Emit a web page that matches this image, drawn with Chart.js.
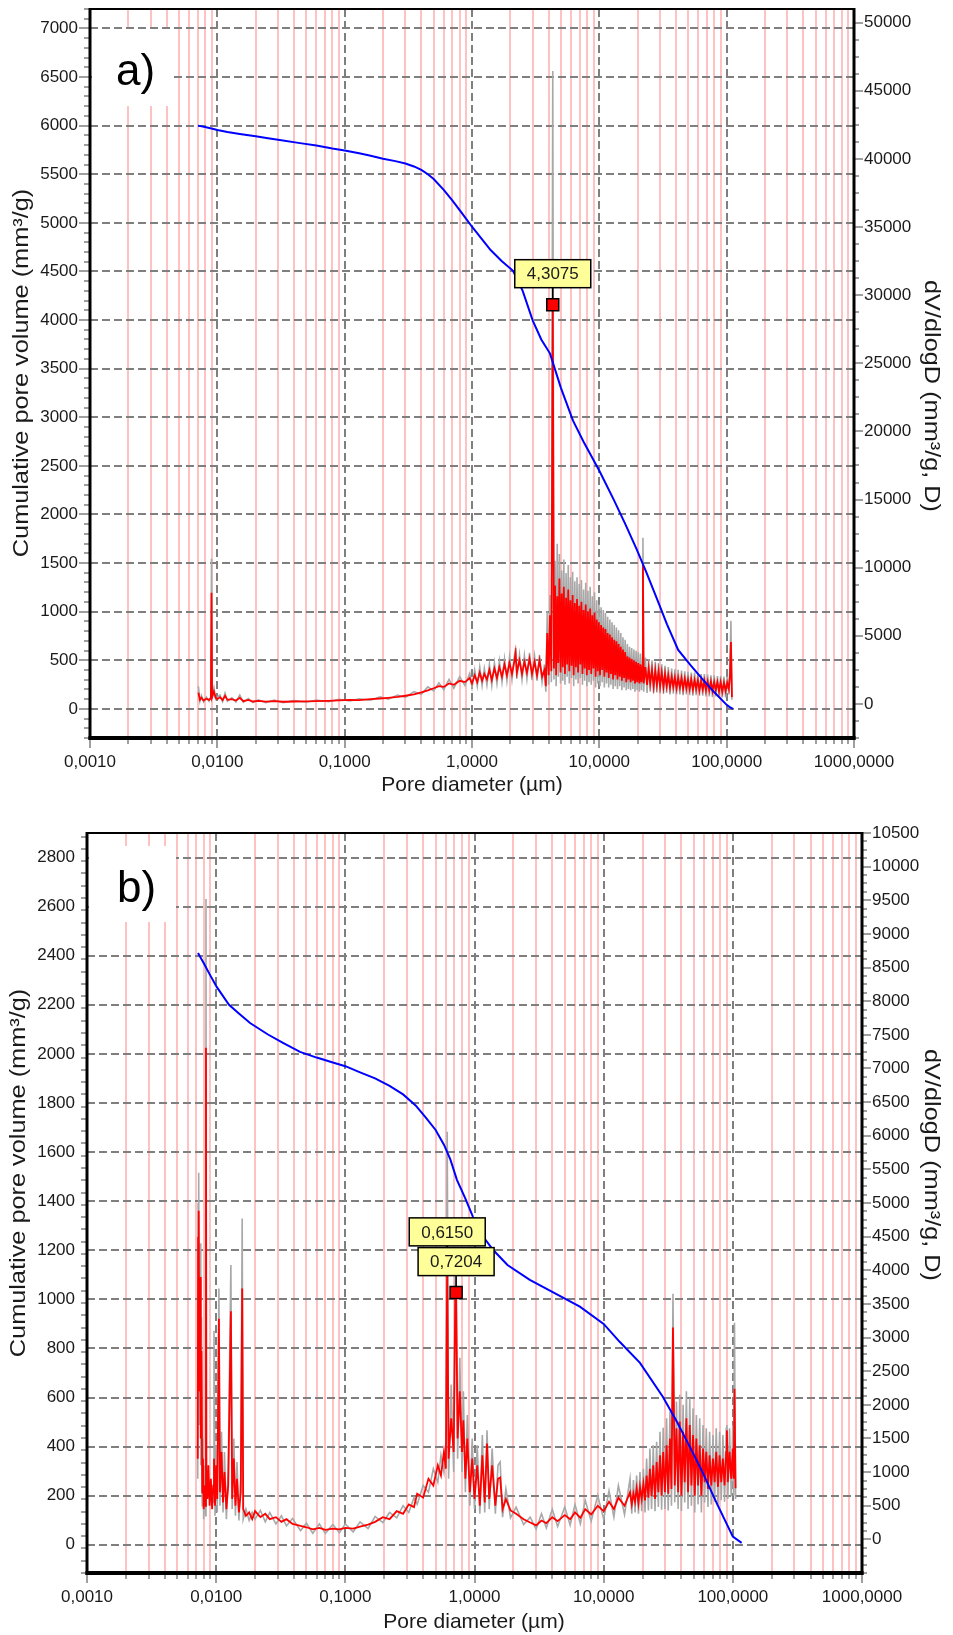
<!DOCTYPE html>
<html lang="en">
<head>
  <meta charset="UTF-8" />
  <title>Pore size distribution</title>
  <script src="https://cdn.jsdelivr.net/npm/chart.js"></script>
  <style>
    * { box-sizing: border-box; margin: 0; padding: 0; }
    html, body { width: 953px; height: 1635px; background: #fff; overflow: hidden; position: relative; }
    .panel { position: absolute; left: 0; width: 953px; }
    #panelA { top: -24px; height: 824px; }
    #panelB { top: 800px; height: 835px; }
  </style>
</head>
<body>
  <div class="panel" id="panelA"><canvas id="chartA" width="953" height="824"></canvas></div>
  <div class="panel" id="panelB"><canvas id="chartB" width="953" height="835"></canvas></div>

  <script>
    // Pore diameter axis (µm), shared by both panels
    const xTicks = [0.001, 0.01, 0.1, 1, 10, 100, 1000];
    const xLabels = ['0,0010', '0,0100', '0,1000', '1,0000', '10,0000', '100,0000', '1000,0000'];

    // ---- sample a ----
    const leftTicksA = [0, 500, 1000, 1500, 2000, 2500, 3000, 3500, 4000, 4500, 5000, 5500, 6000, 6500, 7000];
    const rightTicksA = [0, 5000, 10000, 15000, 20000, 25000, 30000, 35000, 40000, 45000, 50000];

    // cumulative pore volume (mm³/g)
    const cumA_d = [
      0.00705, 0.0080, 0.0090, 0.0100, 0.0120, 0.0150, 0.0200, 0.0250, 0.0300, 0.0446,
      0.0600, 0.0800, 0.1000, 0.1300, 0.1600, 0.2000, 0.2500, 0.3000, 0.3500, 0.4000,
      0.4500, 0.5000, 0.6000, 0.7000, 0.8000, 0.9000, 1.000, 1.200, 1.400, 1.700,
      2.100, 2.500, 3.000, 3.500, 4.100, 5.000, 6.200, 7.500, 10.00, 13.00,
      16.00, 19.50, 23.50, 28.00, 34.00, 41.60, 52.00, 65.30, 80.00, 100.0,
      105.0, 112.0];
    const cumA_v = [
      6000, 5985, 5970, 5955, 5935, 5915, 5890, 5870, 5855, 5820,
      5795, 5765, 5745, 5715, 5690, 5660, 5635, 5610, 5580, 5545,
      5500, 5450, 5340, 5230, 5130, 5040, 4960, 4830, 4720, 4610,
      4507, 4300, 3994, 3800, 3655, 3300, 2967, 2750, 2450, 2150,
      1900, 1650, 1400, 1150, 870, 606, 450, 298, 170, 41,
      20, 0];

    // dV/dlogD: smoothed (red) and raw (grey) at the same diameters
    const distA = [
      0.0071, 0.0073, 0.0075, 0.0078, 0.0082, 0.0086, 0.0089, 0.0090, 0.0091, 0.0094,
      0.0097, 0.0100, 0.0105, 0.0110, 0.0115, 0.0120, 0.0130, 0.0140, 0.0150, 0.0160,
      0.0175, 0.0190, 0.0210, 0.0240, 0.0280, 0.0330, 0.0400, 0.0500, 0.0600, 0.0750,
      0.0900, 0.1100, 0.1300, 0.1600, 0.1900, 0.2200, 0.2600, 0.3000, 0.3500, 0.4000,
      0.4500, 0.5000, 0.5500, 0.6000, 0.6600, 0.7200, 0.8000, 0.8800, 0.96, 1.00,
      1.05, 1.10, 1.15, 1.20, 1.25, 1.31, 1.37, 1.43, 1.50, 1.57,
      1.64, 1.72, 1.80, 1.88, 1.97, 2.06, 2.15, 2.20, 2.25, 2.36,
      2.47, 2.58, 2.70, 2.83, 2.96, 3.10, 3.24, 3.39, 3.55, 3.71,
      3.80, 3.90, 4.00, 4.10, 4.20, 4.3075,
      4.40, 4.49, 4.58, 4.67, 4.76, 4.86, 4.96, 5.06, 5.16, 5.26,
      5.37, 5.48, 5.59, 5.70, 5.81, 5.93, 6.05, 6.17, 6.29, 6.42,
      6.55, 6.68, 6.81, 6.95, 7.09, 7.23, 7.37, 7.52, 7.67, 7.82,
      7.98, 8.14, 8.30, 8.47, 8.64, 8.81, 8.99, 9.17, 9.35, 9.54,
      9.73, 9.92, 10.12, 10.32, 10.53, 10.74, 10.95, 11.17, 11.39, 11.62,
      11.85, 12.09, 12.33, 12.58, 12.83, 13.09, 13.35, 13.62, 13.89, 14.17,
      14.45, 14.74, 15.03, 15.33, 15.64, 15.95, 16.27, 16.60, 16.93, 17.27,
      17.61, 17.96, 18.32, 18.69, 19.06, 19.44, 19.83, 20.23, 20.63, 21.04,
      21.46, 21.89, 22.0,
      22.3, 23.0, 23.7, 24.4, 25.1, 25.9, 26.7, 27.5, 28.3, 29.2,
      30.0, 30.9, 31.9, 32.8, 33.8, 34.8, 35.9, 37.0, 38.1, 39.2,
      40.4, 41.6, 42.9, 44.2, 45.5, 46.9, 48.3, 49.7, 51.2, 52.7,
      54.3, 56.0, 57.6, 59.4, 61.1, 63.0, 64.9, 66.8, 68.8, 70.9,
      73.0, 75.2, 77.4, 79.8, 82.1, 84.6, 87.1, 89.7, 92.4, 95.2,
      98.1, 101, 104, 106, 108, 110];
    const smoothA = [
      830, 300, 450, 250, 380, 300, 420, 8160, 500, 900,
      450, 350, 500, 280, 600, 300, 350, 250, 450, 200,
      300, 180, 220, 170, 200, 160, 180, 190, 210, 230,
      260, 300, 280, 350, 400, 450, 520, 600, 700, 850,
      1000, 1150, 1300, 1250, 1500, 1400, 1700, 1600, 1900, 1500,
      2100, 1600, 2300, 1700, 2200, 1800, 2500, 1750, 2600, 1900,
      2700, 2000, 2900, 2100, 3000, 2200, 3100, 3750, 2300, 3200,
      2200, 3100, 2300, 3300, 2200, 3100, 2100, 3200, 2000, 2500,
      1300, 5200, 2100, 6500, 2400, 29300,
      2600, 8700, 2100, 7900, 3000, 9200, 2300, 8100, 2700, 8600,
      2200, 7800, 2900, 8400, 2400, 7600, 2800, 8000, 2100, 7400,
      2700, 7700, 2300, 7200, 2900, 7500, 2200, 6900, 2600, 7300,
      2100, 6800, 2500, 7000, 2200, 6500, 2600, 6700, 2000, 6200,
      2400, 6000, 2100, 5800, 2500, 5600, 2000, 5500, 2300, 5200,
      1900, 5100, 2200, 4900, 1800, 4700, 2100, 4600, 1800, 4400,
      2000, 4200, 1700, 4000, 1900, 3800, 1600, 3500, 1800, 3400,
      1600, 3300, 1700, 3200, 1500, 3100, 1600, 3000, 1500, 2900,
      1600, 2800, 10300,
      1500, 2700, 1400, 2600, 1500, 2500, 1300, 2450, 1400, 2400,
      1300, 2300, 1250, 2200, 1300, 2100, 1200, 2000, 1250, 1950,
      1150, 1900, 1200, 1900, 1100, 1850, 1150, 1800, 1100, 1800,
      1050, 1750, 1100, 1750, 1000, 1700, 1050, 1700, 1000, 1650,
      1000, 1650, 950, 1600, 1000, 1600, 950, 1600, 900, 1550,
      950, 1550, 1100, 2000, 4550, 500];
    const rawA = [
      1300, 200, 600, 150, 500, 200, 550, 10650, 700, 1200,
      350, 500, 650, 180, 800, 200, 450, 150, 650, 120,
      400, 100, 300, 100, 280, 90, 250, 120, 290, 160,
      340, 220, 380, 270, 520, 350, 650, 480, 900, 700,
      1250, 950, 1550, 1050, 1800, 1150, 2000, 1350, 2250, 1200,
      2500, 1300, 2700, 1350, 2600, 1400, 2900, 1350, 3000, 1500,
      3150, 1600, 3300, 1700, 3450, 1800, 3500, 4100, 1850, 3600,
      1800, 3550, 1850, 3750, 1750, 3500, 1700, 3600, 1600, 2900,
      900, 6800, 1400, 8000, 1600, 46450,
      1800, 10500, 1300, 11760, 2000, 11000, 1500, 9800, 1700, 10600,
      1400, 9600, 2000, 10200, 1500, 9300, 1900, 9700, 1300, 9000,
      1800, 9300, 1500, 8800, 1900, 9100, 1400, 8400, 1700, 8900,
      1300, 8300, 1600, 8600, 1400, 7900, 1700, 8200, 1200, 7600,
      1500, 7300, 1300, 7100, 1600, 6900, 1200, 6700, 1500, 6400,
      1200, 6200, 1400, 6000, 1100, 5800, 1300, 5600, 1100, 5400,
      1300, 5200, 1000, 4900, 1200, 4700, 1000, 4400, 1100, 4200,
      1000, 4100, 1100, 4000, 900, 3900, 1000, 3800, 900, 3700,
      1000, 3600, 12200,
      900, 3400, 800, 3300, 900, 3200, 800, 3100, 850, 3000,
      800, 2900, 750, 2800, 800, 2700, 700, 2600, 750, 2550,
      700, 2500, 700, 2450, 650, 2400, 700, 2350, 650, 2300,
      600, 2300, 650, 2250, 600, 2200, 600, 2200, 550, 2150,
      550, 2100, 500, 2100, 550, 2050, 500, 2050, 480, 2000,
      480, 2000, 700, 2600, 6100, 300];
    const peaksA = [4.3075];

    // ---- sample b ----
    const leftTicksB = [0, 200, 400, 600, 800, 1000, 1200, 1400, 1600, 1800, 2000, 2200, 2400, 2600, 2800];
    const rightTicksB = [0, 500, 1000, 1500, 2000, 2500, 3000, 3500, 4000, 4500, 5000, 5500,
      6000, 6500, 7000, 7500, 8000, 8500, 9000, 9500, 10000, 10500];

    const cumB_d = [
      0.00723, 0.0080, 0.0090, 0.0101, 0.01257, 0.0150, 0.0183, 0.0250, 0.0329, 0.0446,
      0.060, 0.080, 0.100, 0.130, 0.170, 0.220, 0.280, 0.350, 0.420, 0.500,
      0.580, 0.650, 0.731, 0.850, 0.973, 1.150, 1.390, 1.800, 2.680, 4.000,
      6.540, 10.00, 13.30, 19.10, 28.70, 37.00, 46.50, 58.60, 75.00, 100.0,
      117.0];
    const cumB_v = [
      2411, 2370, 2320, 2273, 2200, 2165, 2126, 2080, 2045, 2008,
      1985, 1965, 1950, 1925, 1900, 1870, 1835, 1790, 1740, 1690,
      1630, 1570, 1487, 1410, 1336, 1260, 1202, 1140, 1079, 1030,
      970, 900, 827, 741, 603, 500, 399, 293, 170, 33,
      8];

    const distB = [
      0.00720, 0.00725, 0.00730, 0.00735, 0.00740, 0.00750, 0.00760, 0.00770, 0.00780, 0.00790,
      0.00800, 0.00815, 0.00830, 0.00834, 0.00840, 0.00855, 0.00870, 0.00890, 0.00910, 0.00930,
      0.00950, 0.00962, 0.00980, 0.01000, 0.01020, 0.01050, 0.01070, 0.01100, 0.01130, 0.01160,
      0.01200, 0.01240, 0.01300, 0.01330, 0.01370, 0.01410, 0.01450, 0.01500, 0.01550, 0.01590,
      0.01620, 0.01700, 0.01800, 0.01900, 0.02000, 0.02200, 0.02400, 0.02600, 0.02900, 0.03200,
      0.03500, 0.03900, 0.04500, 0.05000, 0.05600, 0.06300, 0.07000, 0.08000, 0.09000, 0.10000,
      0.11500, 0.13000, 0.15000, 0.17000, 0.19500, 0.22000, 0.25000, 0.28000, 0.31000, 0.34000,
      0.36000, 0.40000, 0.44000, 0.48000, 0.52000, 0.55000, 0.58000, 0.60000, 0.61500, 0.63000,
      0.66000, 0.69000, 0.71000, 0.72040, 0.74000, 0.77000, 0.80000, 0.82000, 0.85000, 0.88000,
      0.92000, 0.96000, 1.00000, 1.05000, 1.10000, 1.15000, 1.20000, 1.25000, 1.30000, 1.37000,
      1.45, 1.52, 1.58, 1.65, 1.75, 1.90, 2.10, 2.40, 2.70, 3.00,
      3.30, 3.60, 4.00, 4.40, 5.00, 5.50, 6.00, 6.60, 7.20, 8.00,
      9.00, 10.0, 11.0, 12.0, 13.0, 14.5,
      16.0, 16.5, 17.0, 17.5, 18.0, 18.6, 19.1, 19.7, 20.3, 20.9,
      21.5, 22.2, 22.8, 23.5, 24.2, 25.0, 25.7, 26.5, 27.3, 28.1,
      28.9, 29.8, 30.7, 31.6, 32.6, 33.5, 34.4, 35.5, 36.6, 37.7,
      38.8, 40.0, 41.2, 42.4, 43.7, 45.0, 46.4, 47.8, 49.2, 50.7,
      52.2, 53.8, 55.4, 57.1, 58.8, 60.5, 62.3, 64.2, 66.1, 68.1,
      70.2, 72.3, 74.4, 76.7, 79.0, 81.3, 83.8, 86.3, 88.9, 90.0,
      91.5, 94.3, 97.1, 100, 101.5, 103, 105];
    const smoothB = [
      1200, 4500, 2600, 4886, 2200, 3900, 1500, 2800, 700, 1200,
      450, 800, 500, 7306, 900, 600, 1100, 500, 900, 450,
      800, 1200, 500, 1100, 600, 3280, 700, 1300, 550, 1000,
      450, 800, 3390, 600, 1200, 500, 900, 400, 700, 3730,
      450, 350, 400, 300, 420, 330, 380, 300, 330, 260,
      300, 230, 200, 180, 150, 170, 140, 160, 150, 170,
      160, 190, 220, 260, 330, 300, 420, 380, 520, 480,
      680, 620, 900, 800, 1100, 950, 1300, 1050, 4110, 1200,
      1800, 1300, 3600, 3668, 1500, 2200, 1300, 1770, 900, 1500,
      700, 1200, 600, 1100, 500, 1250, 550, 1425, 600, 1100,
      500, 900, 920, 450, 600, 430, 380, 300, 250, 208,
      280, 240, 330, 270, 360, 300, 400, 320, 450, 370,
      500, 420, 560, 450, 620, 500,
      700, 520, 680, 560, 760, 540, 780, 600, 820, 580,
      950, 620, 1050, 640, 1100, 600, 1150, 700, 1250, 650,
      1300, 700, 1400, 680, 1500, 750, 3150, 800, 1650, 700,
      1750, 650, 1600, 850, 1800, 700, 1700, 800, 1550, 650,
      1500, 800, 1400, 650, 1350, 850, 1300, 750, 1250, 800,
      1200, 850, 1300, 780, 1250, 850, 1200, 800, 1300, 1620,
      850, 1300, 900, 1350, 900, 2240, 760];
    const rawB = [
      900, 5000, 2000, 5450, 1700, 4400, 1100, 3300, 500, 1500,
      300, 1100, 350, 9520, 700, 800, 800, 700, 600, 650,
      550, 3100, 350, 1400, 400, 3730, 500, 1600, 400, 1300,
      300, 1050, 4080, 450, 1500, 350, 1150, 280, 900, 4770,
      300, 450, 280, 400, 300, 430, 260, 400, 230, 350,
      200, 310, 130, 240, 90, 230, 90, 220, 100, 230,
      110, 260, 160, 340, 250, 400, 320, 500, 400, 620,
      520, 800, 700, 1050, 850, 1250, 1000, 1400, 6060, 900,
      2300, 1000, 3900, 4000, 1200, 2700, 1000, 2200, 700, 1850,
      500, 1500, 450, 1400, 380, 1550, 400, 1620, 450, 1350,
      380, 1100, 1150, 330, 750, 320, 480, 220, 330, 150,
      380, 170, 450, 190, 480, 210, 520, 230, 580, 270,
      650, 300, 720, 330, 800, 370,
      900, 380, 880, 400, 950, 380, 1000, 420, 1050, 400,
      1200, 430, 1350, 450, 1400, 420, 1450, 480, 1600, 440,
      1660, 450, 1800, 430, 1900, 500, 3650, 550, 2050, 450,
      2150, 420, 2000, 550, 2200, 450, 2100, 500, 1950, 400,
      1850, 520, 1800, 400, 1700, 550, 1650, 480, 1600, 520,
      1550, 560, 1650, 520, 1600, 580, 1550, 560, 1650, 1700,
      600, 1650, 640, 1700, 650, 3220, 600];
    const peaksB = [0.6150, 0.7204];

    const FONT = "'Liberation Sans', Arial, sans-serif";
    const INK = '#1a1a1a';
    const GRID = '#7f7f7f';

    // Grid, frame, ticks, titles and peak callouts drawn around the datasets
    const framePlugin = {
      id: 'frame',
      beforeDatasetsDraw(chart, args, o) {
        const { ctx, chartArea: a } = chart;
        const x = chart.scales.x, yL = chart.scales.yL;
        ctx.save();
        // minor log lines
        ctx.lineWidth = 2;
        ctx.strokeStyle = '#ffc2c2';
        for (let e = -3; e < 3; e++) {
          for (let k = 2; k <= 9; k++) {
            const px = Math.round(x.getPixelForValue(k * Math.pow(10, e)));
            ctx.beginPath(); ctx.moveTo(px, a.top); ctx.lineTo(px, a.bottom); ctx.stroke();
          }
        }
        // dashed decade and value lines
        ctx.strokeStyle = GRID;
        ctx.setLineDash([8, 4]);
        xTicks.slice(1, -1).forEach(v => {
          const px = Math.round(x.getPixelForValue(v));
          ctx.beginPath(); ctx.moveTo(px, a.top); ctx.lineTo(px, a.bottom); ctx.stroke();
        });
        o.leftTicks.forEach(v => {
          const py = Math.round(yL.getPixelForValue(v));
          ctx.beginPath(); ctx.moveTo(a.left, py); ctx.lineTo(a.right, py); ctx.stroke();
        });
        ctx.setLineDash([]);
        // panel letter on a white patch
        ctx.fillStyle = '#fff';
        ctx.fillRect(o.letterBox[0], o.letterBox[1], o.letterBox[2], o.letterBox[3]);
        ctx.fillStyle = '#000';
        ctx.font = `44px ${FONT}`;
        ctx.textBaseline = 'alphabetic';
        ctx.fillText(o.letter, o.letterPos[0], o.letterPos[1]);
        ctx.restore();
      },
      afterDatasetsDraw(chart, args, o) {
        const { ctx } = chart;
        const x = chart.scales.x, yR = chart.scales.yR;
        ctx.save();
        ctx.font = `17px ${FONT}`;
        ctx.textAlign = 'center';
        ctx.textBaseline = 'middle';
        o.peaks.forEach(d => {
          const v = o.red[o.dist.indexOf(d)];
          const px = x.getPixelForValue(d), py = yR.getPixelForValue(v);
          const w = 76, h = 28, bottom = py - 17;
          ctx.strokeStyle = '#000';
          ctx.lineWidth = 1.5;
          ctx.beginPath(); ctx.moveTo(px, bottom); ctx.lineTo(px, py - 6); ctx.stroke();
          ctx.fillStyle = '#ffff99';
          ctx.fillRect(px - w / 2, bottom - h, w, h);
          ctx.strokeRect(px - w / 2, bottom - h, w, h);
          ctx.fillStyle = INK;
          ctx.fillText(d.toFixed(4).replace('.', ','), px, bottom - h / 2 + 1);
        });
        ctx.restore();
      },
      afterDraw(chart, args, o) {
        const { ctx, chartArea: a } = chart;
        const x = chart.scales.x, yL = chart.scales.yL, yR = chart.scales.yR;
        ctx.save();
        ctx.strokeStyle = GRID;
        const hTick = (x0, x1, py) => { ctx.beginPath(); ctx.moveTo(x0, py); ctx.lineTo(x1, py); ctx.stroke(); };
        const vTick = (px, y0, y1) => { ctx.beginPath(); ctx.moveTo(px, y0); ctx.lineTo(px, y1); ctx.stroke(); };
        // left ticks
        ctx.lineWidth = 1.5;
        for (let v = yL.min; v <= yL.max; v += o.leftMinor) {
          const py = Math.round(yL.getPixelForValue(v));
          const major = o.leftTicks.includes(Math.round(v));
          hTick(a.left - (major ? 11 : 6), a.left, py);
        }
        // right ticks
        for (let v = Math.ceil(yR.min / o.rightMinor) * o.rightMinor; v <= yR.max; v += o.rightMinor) {
          const py = Math.round(yR.getPixelForValue(v));
          const major = o.rightTicks.includes(v);
          hTick(a.right, a.right + (major ? 9 : 5), py);
        }
        // bottom ticks
        for (let e = -3; e < 3; e++) {
          for (let k = 1; k <= 9; k++) {
            const px = Math.round(x.getPixelForValue(k * Math.pow(10, e)));
            vTick(px, a.bottom, a.bottom + (k === 1 ? 10 : 6));
          }
        }
        vTick(Math.round(x.getPixelForValue(1000)), a.bottom, a.bottom + 10);
        // frame
        ctx.strokeStyle = '#000';
        ctx.lineWidth = 2;
        hTick(a.left, a.right, a.top);
        ctx.lineWidth = 3;
        vTick(a.left, a.top - 1, a.bottom + 2);
        vTick(a.right, a.top - 1, a.bottom + 2);
        ctx.lineWidth = 4;
        hTick(a.left - 1.5, a.right + 1.5, a.bottom);
        // axis titles
        ctx.fillStyle = INK;
        ctx.font = `21px ${FONT}`;
        ctx.textAlign = 'center';
        ctx.textBaseline = 'middle';
        ctx.fillText('Pore diameter (µm)', o.xTitle[0], o.xTitle[1]);
        ctx.font = `22px ${FONT}`;
        ctx.save();
        ctx.translate(o.leftTitle[0], o.leftTitle[1]);
        ctx.rotate(-Math.PI / 2);
        ctx.scale(1.15, 1);
        ctx.fillText('Cumulative pore volume (mm³/g)', 0, 0);
        ctx.restore();
        ctx.save();
        ctx.translate(o.rightTitle[0], o.rightTitle[1]);
        ctx.rotate(Math.PI / 2);
        ctx.scale(1.15, 1);
        ctx.fillText('dV/dlogD (mm³/g, D)', 0, 0);
        ctx.restore();
        ctx.restore();
      }
    };

    function buildChart(id, p) {
      const pts = (xs, ys) => xs.map((d, i) => ({ x: d, y: ys[i] }));
      const tickFont = { family: FONT, size: 17 };
      return new Chart(document.getElementById(id), {
        type: 'line',
        data: {
          datasets: [
            {
              label: 'peak',
              data: p.peaks.map(d => ({ x: d, y: p.red[p.dist.indexOf(d)] })),
              yAxisID: 'yR', showLine: false, order: 0,
              pointStyle: 'rect', pointRadius: 8.5,
              pointBackgroundColor: '#ff0000', pointBorderColor: '#000', pointBorderWidth: 1.5
            },
            {
              label: 'Cumulative pore volume',
              data: pts(p.cumD, p.cumV), yAxisID: 'yL', order: 1,
              borderColor: '#0000ff', borderWidth: 2, pointRadius: 0
            },
            {
              label: 'dV/dlogD',
              data: pts(p.dist, p.red), yAxisID: 'yR', order: 2,
              borderColor: '#ff0000', borderWidth: 1.8, pointRadius: 0
            },
            {
              label: 'dV/dlogD raw',
              data: pts(p.dist, p.raw), yAxisID: 'yR', order: 3,
              borderColor: '#a8a8a8', borderWidth: 1.6, pointRadius: 0
            }
          ]
        },
        options: {
          responsive: false,
          animation: false,
          layout: { padding: { top: p.top, left: 0, right: 0, bottom: 0 } },
          elements: { line: { tension: 0 } },
          plugins: {
            legend: { display: false },
            tooltip: { enabled: false },
            frame: p
          },
          scales: {
            x: {
              type: 'logarithmic', position: 'bottom', min: 0.001, max: 1000,
              afterBuildTicks: s => { s.ticks = xTicks.map(v => ({ value: v })); },
              afterFit: s => { s.height = p.xHeight; },
              grid: { display: false, drawTicks: false },
              border: { display: false },
              ticks: {
                autoSkip: false, maxRotation: 0, padding: 14, color: INK, font: tickFont,
                callback: (v, i) => xLabels[i]
              }
            },
            yL: {
              type: 'linear', position: 'left', min: p.lMin, max: p.lMax,
              afterBuildTicks: s => { s.ticks = p.leftTicks.map(v => ({ value: v })); },
              afterFit: s => { s.width = p.leftWidth; },
              grid: { display: false, drawTicks: false },
              border: { display: false },
              ticks: { autoSkip: false, padding: 12, color: INK, font: tickFont, callback: v => String(v) }
            },
            yR: {
              type: 'linear', position: 'right', min: p.rMin, max: p.rMax,
              afterBuildTicks: s => { s.ticks = p.rightTicks.map(v => ({ value: v })); },
              afterFit: s => { s.width = p.rightWidth; },
              grid: { display: false, drawTicks: false },
              border: { display: false },
              ticks: { autoSkip: false, padding: 10, color: INK, font: tickFont, callback: v => String(v) }
            }
          }
        },
        plugins: [framePlugin]
      });
    }

    // panel a canvas starts 24px above the page, so its coordinates are shifted by +24
    buildChart('chartA', {
      cumD: cumA_d, cumV: cumA_v, dist: distA, red: smoothA, raw: rawA, peaks: peaksA,
      leftTicks: leftTicksA, rightTicks: rightTicksA, leftMinor: 100, rightMinor: 1250,
      lMin: -300, lMax: 7200, rMin: -2500, rMax: 51000,
      top: 33, leftWidth: 90, rightWidth: 99, xHeight: 62,
      letter: 'a)', letterBox: [92, 53, 82, 77], letterPos: [116, 109],
      xTitle: [472, 809], leftTitle: [22, 397], rightTitle: [931, 420]
    });

    buildChart('chartB', {
      cumD: cumB_d, cumV: cumB_v, dist: distB, red: smoothB, raw: rawB, peaks: peaksB,
      leftTicks: leftTicksB, rightTicks: rightTicksB, leftMinor: 50, rightMinor: 125,
      lMin: -115, lMax: 2900, rMin: -500, rMax: 10500,
      top: 33, leftWidth: 87, rightWidth: 91, xHeight: 62,
      letter: 'b)', letterBox: [89, 46, 87, 76], letterPos: [117, 102],
      xTitle: [474, 822], leftTitle: [19, 373], rightTitle: [931, 365]
    });
  </script>
</body>
</html>
